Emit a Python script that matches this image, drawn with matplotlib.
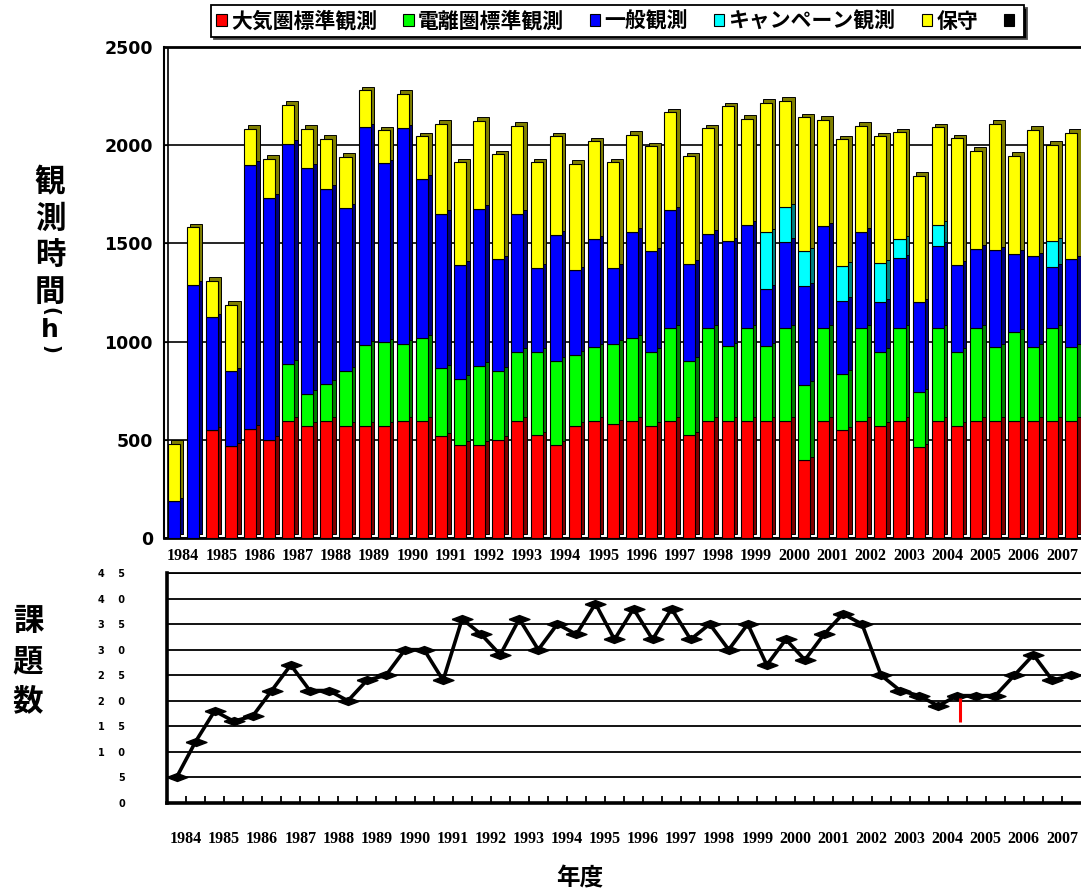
import numpy as np
import matplotlib.pyplot as plt
from matplotlib.patches import Patch

plt.rcParams['font.family'] = ['Noto Sans CJK JP', 'DejaVu Sans']

# two half-year periods per fiscal year, 1984 - 2007
years = [str(y) for y in range(1984, 2008)]

# observation hours (h) per period
atmos = [0, 0, 548, 467, 557, 501, 597, 572, 597, 572, 572, 572, 597, 597, 518, 475,
         475, 501, 597, 523, 475, 572, 597, 582, 597, 572, 597, 523, 597, 597, 597, 597,
         597, 395, 597, 548, 597, 572, 597, 462, 597, 572, 597, 597, 597, 597, 597, 597]
iono = [0, 0, 0, 0, 0, 0, 291, 163, 189, 280, 411, 424, 392, 421, 347, 336,
        401, 351, 350, 424, 428, 361, 375, 407, 421, 375, 472, 380, 472, 379, 472, 379,
        472, 386, 472, 287, 472, 375, 472, 280, 472, 375, 472, 375, 450, 375, 472, 375]
general = [187, 1290, 575, 382, 1344, 1230, 1118, 1150, 992, 830, 1109, 913, 1098, 811, 786, 581,
           801, 567, 704, 428, 641, 430, 550, 387, 540, 512, 599, 492, 479, 534, 526, 292,
           438, 500, 518, 373, 489, 253, 356, 458, 419, 445, 404, 493, 401, 462, 309, 448]
campaign = [0, 0, 0, 0, 0, 0, 0, 0, 0, 0, 0, 0, 0, 0, 0, 0,
            0, 0, 0, 0, 0, 0, 0, 0, 0, 0, 0, 0, 0, 0, 0, 288,
            176, 178, 0, 178, 0, 200, 97, 0, 107, 0, 0, 0, 0, 0, 132, 0]
maint = [292, 293, 187, 339, 183, 200, 200, 199, 255, 258, 187, 168, 175, 216, 457, 522,
         448, 536, 448, 539, 501, 543, 497, 538, 495, 535, 499, 548, 539, 688, 540, 659,
         543, 683, 543, 645, 541, 645, 545, 645, 497, 644, 499, 644, 498, 645, 492, 642]

# number of programs per period
programs = [5, 12, 18, 16, 17, 22, 27, 22, 22, 20, 24, 25, 30, 30, 24, 36,
            33, 29, 36, 30, 35, 33, 39, 32, 38, 32, 38, 32, 35, 30, 35, 27,
            32, 28, 33, 37, 35, 25, 22, 21, 19, 21, 21, 21, 25, 29, 24, 25]
# red marker in the lower panel
red_mark_x = [41.15]
red_mark_y = (15.8, 20.6)

names = ['大気圏標準観測', '電離圏標準観測', '一般観測', 'キャンペーン観測', '保守', '']
front = ['#ff0000', '#00ff00', '#0000ff', '#00ffff', '#ffff00', '#000000']
side = ['#800000', '#008000', '#000080', '#008080', '#808000', '#000000']

W, H = 1081, 892
fig = plt.figure(figsize=(W / 100, H / 100), dpi=100)

# ---- upper panel: stacked 3D-look bars
ax = fig.add_axes([164 / W, 1 - 538 / H, 917 / W, 491 / H])
x = np.arange(len(atmos))
w = 0.63
dx, dy = 0.19, 18
bottom = np.zeros(len(x))
for vals, c, s in zip([atmos, iono, general, campaign, maint], front, side):
    v = np.array(vals, dtype=float)
    ax.bar(x + dx, v, width=w, bottom=bottom + dy, color=s, edgecolor='black', lw=0.7, zorder=2)
    ax.bar(x, v, width=w, bottom=bottom, color=c, edgecolor='black', lw=0.8, zorder=3)
    bottom += v

ax.set_xlim(-0.5, len(x) - 0.5)
ax.set_ylim(0, 2500)
ax.set_yticks([0, 500, 1000, 1500, 2000, 2500])
ax.set_yticklabels(['0', '500', '1000', '1500', '2000', '2500'],
                   family='DejaVu Sans', fontweight='bold', fontsize=12.5)
ax.set_xticks(np.arange(0.5, len(x), 2))
ax.set_xticklabels(years, family='Liberation Serif', fontweight='bold', fontsize=11.5)
ax.tick_params(axis='x', length=0, pad=7)
ax.tick_params(axis='y', direction='in', length=3, pad=8)
ax.yaxis.grid(True, color='black', lw=1.2, zorder=0)
ax.set_axisbelow(True)
ax.spines['right'].set_visible(False)
ax.spines['top'].set_linewidth(2)
ax.spines['left'].set_linewidth(1.5)
ax.spines['bottom'].set_linewidth(2)
# inner edge of the side wall
ax.axvline(-0.5 + dx, color='black', lw=1.2, zorder=1)

# ---- lower panel: number of programs
ax2 = fig.add_axes([167 / W, 1 - 803 / H, 914 / W, 230 / H])
xd = np.arange(len(programs))
ax2.plot(xd, programs, color='black', lw=2.6, zorder=3,
         marker=[(-1, 0), (0, 0.38), (1, 0), (0, -0.38), (-1, 0)], markersize=15)
ax2.vlines(red_mark_x, red_mark_y[0], red_mark_y[1], color='red', lw=2.2, zorder=4)
ax2.set_xlim(-0.5, len(programs) - 0.5)
ax2.set_ylim(0, 45)
ax2.set_yticks(range(0, 50, 5))
ax2.set_yticklabels(['    '.join(str(v)) if v >= 10 else str(v) for v in range(0, 50, 5)],
                    family='DejaVu Sans', fontweight='bold', fontsize=7)
ax2.tick_params(axis='y', length=0, pad=30)
bounds = np.arange(0.5, len(programs) - 0.5, 1)
ax2.set_xticks(bounds)
ax2.set_xticklabels([years[i // 2] if i % 2 == 0 else '' for i in range(len(bounds))],
                    family='Liberation Serif', fontweight='bold', fontsize=11.5)
ax2.tick_params(axis='x', direction='in', length=5, width=1.3, pad=20)
ax2.yaxis.grid(True, color='black', lw=1.3, zorder=0)
ax2.set_axisbelow(True)
ax2.spines['right'].set_visible(False)
ax2.spines['top'].set_linewidth(1.3)
ax2.spines['left'].set_linewidth(2.6)
ax2.spines['bottom'].set_linewidth(2.6)

# ---- labels
for ch, yy in zip('観測時間', [182, 219, 256, 292]):
    fig.text(50 / W, 1 - yy / H, ch, ha='center', va='center', fontsize=22, fontweight='bold')
fig.text(50 / W, 1 - 311 / H, '(', ha='center', va='center', rotation=-90,
         family='DejaVu Sans', fontsize=14, fontweight='bold')
fig.text(50 / W, 1 - 330 / H, 'h', ha='center', va='center',
         family='DejaVu Sans', fontsize=18, fontweight='bold')
fig.text(50 / W, 1 - 349 / H, ')', ha='center', va='center', rotation=-90,
         family='DejaVu Sans', fontsize=14, fontweight='bold')
for ch, yy in zip('課題数', [621, 661, 701]):
    fig.text(28 / W, 1 - yy / H, ch, ha='center', va='center', fontsize=22, fontweight='bold')
fig.text(580 / W, 1 - 878 / H, '年度', ha='center', va='center', fontsize=17, fontweight='bold')

handles = [Patch(facecolor=c, edgecolor='black', lw=0.8) for c in front]
leg = fig.legend(handles, names, loc='center', ncol=6,
                 bbox_to_anchor=(617.5 / W, 1 - 21 / H),
                 prop={'weight': 'bold', 'size': 15},
                 handlelength=0.5, handleheight=0.5, handletextpad=0.2,
                 columnspacing=1.25, borderpad=0.25, fancybox=False,
                 shadow={'ox': 2, 'oy': -2, 'facecolor': 'black', 'alpha': 1})
leg.get_frame().set_edgecolor('black')
leg.get_frame().set_linewidth(1.3)

fig.savefig('out.png', dpi=100)
